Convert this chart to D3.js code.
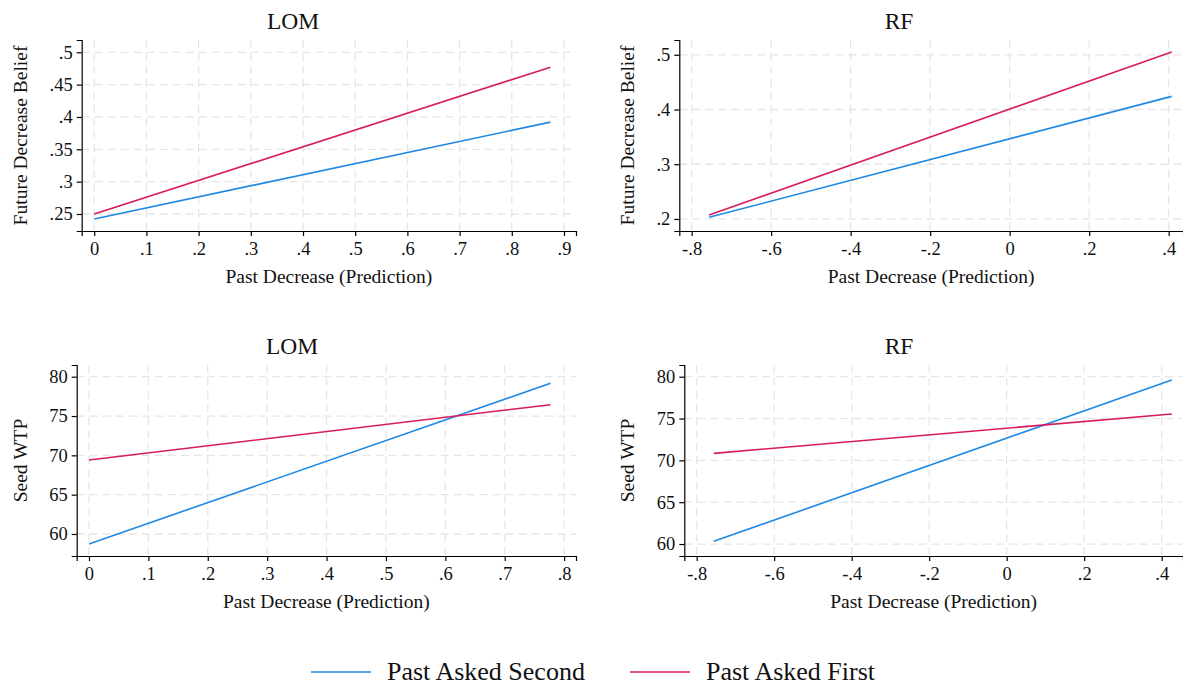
<!DOCTYPE html>
<html>
<head>
<meta charset="utf-8">
<script src="https://cdn.jsdelivr.net/npm/d3@7"></script>
<style>
  body { margin: 0; background: #fff; }
  svg { display: block; font-family: "Liberation Serif", "Times New Roman", serif; }
  svg text { font-family: "Liberation Serif", "Times New Roman", serif; }
</style>
</head>
<body>
<div id="chart"></div>
<script>
// series names and colours
const seriesNames = ["Past Asked Second", "Past Asked First"];
const seriesColors = ["#1E88E5", "#D81B60"];

// fitted lines, two end points each: [x, y]
const lomBeliefSecond = [[0, 0.2423], [0.874, 0.392]];
const lomBeliefFirst  = [[0, 0.250],  [0.874, 0.477]];
const rfBeliefSecond  = [[-0.756, 0.203],  [0.4075, 0.424]];
const rfBeliefFirst   = [[-0.756, 0.2073], [0.4075, 0.505]];
const lomWtpSecond = [[0, 58.73], [0.777, 79.16]];
const lomWtpFirst  = [[0, 69.40], [0.777, 76.44]];
const rfWtpSecond  = [[-0.756, 60.32], [0.426, 79.60]];
const rfWtpFirst   = [[-0.756, 70.84], [0.426, 75.54]];

// tick values
const lomBeliefXTicks = [0, 0.1, 0.2, 0.3, 0.4, 0.5, 0.6, 0.7, 0.8, 0.9];
const lomBeliefYTicks = [0.25, 0.3, 0.35, 0.4, 0.45, 0.5];
const rfXTicks = [-0.8, -0.6, -0.4, -0.2, 0, 0.2, 0.4];
const rfBeliefYTicks = [0.2, 0.3, 0.4, 0.5];
const lomWtpXTicks = [0, 0.1, 0.2, 0.3, 0.4, 0.5, 0.6, 0.7, 0.8];
const wtpYTicks = [60, 65, 70, 75, 80];

const xTitle = "Past Decrease (Prediction)";

const width = 1183, height = 686;
const svg = d3.select("#chart").append("svg")
  .attr("width", width).attr("height", height);

// Stata-like number labels: .5, -.8, 0
const fmt = v => String(+v.toFixed(4)).replace(/^0\./, ".").replace(/^-0\./, "-.");

const panels = [
  { title: "LOM", ytitle: "Future Decrease Belief", series: [lomBeliefSecond, lomBeliefFirst],
    box: { l: 81.7, r: 576, t: 40, b: 231 }, xd: [-0.024, 0.923], yd: [0.2237, 0.519],
    xt: lomBeliefXTicks, yt: lomBeliefYTicks, titleX: 293, ytitleX: 20 },
  { title: "RF", ytitle: "Future Decrease Belief", series: [rfBeliefSecond, rfBeliefFirst],
    box: { l: 679.3, r: 1183, t: 40, b: 231 }, xd: [-0.831, 0.436], yd: [0.178, 0.527],
    xt: rfXTicks, yt: rfBeliefYTicks, titleX: 899, ytitleX: 627 },
  { title: "LOM", ytitle: "Seed WTP", series: [lomWtpSecond, lomWtpFirst],
    box: { l: 76.7, r: 576, t: 365, b: 556 }, xd: [-0.0207, 0.82], yd: [57.2, 81.49],
    xt: lomWtpXTicks, yt: wtpYTicks, titleX: 292, ytitleX: 20 },
  { title: "RF", ytitle: "Seed WTP", series: [rfWtpSecond, rfWtpFirst],
    box: { l: 684.3, r: 1183, t: 365, b: 556 }, xd: [-0.832, 0.455], yd: [58.57, 81.4],
    xt: rfXTicks, yt: wtpYTicks, titleX: 899, ytitleX: 627 }
];

panels.forEach(p => {
  const x = d3.scaleLinear().domain(p.xd).range([p.box.l, p.box.r]);
  const y = d3.scaleLinear().domain(p.yd).range([p.box.b, p.box.t]);
  const g = svg.append("g");

  // grid
  g.selectAll(".gx").data(p.xt).join("line")
    .attr("x1", d => x(d)).attr("x2", d => x(d))
    .attr("y1", p.box.t).attr("y2", p.box.b)
    .attr("stroke", "#e6e6e6").attr("stroke-width", 1.3)
    .attr("stroke-dasharray", "8,5");
  g.selectAll(".gy").data(p.yt).join("line")
    .attr("x1", p.box.l).attr("x2", p.box.r)
    .attr("y1", d => y(d)).attr("y2", d => y(d))
    .attr("stroke", "#e6e6e6").attr("stroke-width", 1.3)
    .attr("stroke-dasharray", "8,5");

  // axes
  const xAxis = g.append("g")
    .attr("transform", `translate(0,${p.box.b})`)
    .call(d3.axisBottom(x).tickValues(p.xt).tickFormat(fmt).tickSizeOuter(0).tickSize(5).tickPadding(6));
  const yAxis = g.append("g")
    .attr("transform", `translate(${p.box.l},0)`)
    .call(d3.axisLeft(y).tickValues(p.yt).tickFormat(fmt).tickSizeOuter(0).tickSize(5).tickPadding(4));
  [xAxis, yAxis].forEach(a => {
    a.attr("font-family", null).attr("font-size", null);
    a.select(".domain").attr("stroke", "#000").attr("stroke-width", 1.2);
    a.selectAll(".tick line").attr("stroke", "#000").attr("stroke-width", 1.2);
    a.selectAll("text")
      .style("font-family", "'Liberation Serif', 'Times New Roman', serif")
      .style("font-size", "18.5px").attr("fill", "#111");
  });

  // lines
  const line = d3.line().x(d => x(d[0])).y(d => y(d[1]));
  p.series.forEach((s, i) => {
    g.append("path").datum(s)
      .attr("d", line)
      .attr("fill", "none")
      .attr("stroke", seriesColors[i])
      .attr("stroke-width", 1.6);
  });

  // titles
  g.append("text")
    .attr("x", p.titleX).attr("y", p.box.t - 11)
    .attr("text-anchor", "middle")
    .style("font-size", "23.5px").attr("fill", "#111")
    .text(p.title);
  g.append("text")
    .attr("x", (p.box.l + p.box.r) / 2).attr("y", p.box.b + 52)
    .attr("text-anchor", "middle")
    .style("font-size", "19.5px").attr("fill", "#111")
    .text(xTitle);
  g.append("text")
    .attr("transform", `translate(${p.ytitleX + 7},${(p.box.t + p.box.b) / 2}) rotate(-90)`)
    .attr("text-anchor", "middle")
    .style("font-size", "19.5px").attr("fill", "#111")
    .text(p.ytitle);
});

// legend
const legend = svg.append("g");
const legendX = [311, 630];
seriesNames.forEach((name, i) => {
  legend.append("line")
    .attr("x1", legendX[i]).attr("x2", legendX[i] + 60)
    .attr("y1", 672).attr("y2", 672)
    .attr("stroke", seriesColors[i]).attr("stroke-width", 1.6);
  legend.append("text")
    .attr("x", legendX[i] + 76).attr("y", 680)
    .style("font-size", "26px").attr("fill", "#111")
    .text(name);
});
</script>
</body>
</html>
